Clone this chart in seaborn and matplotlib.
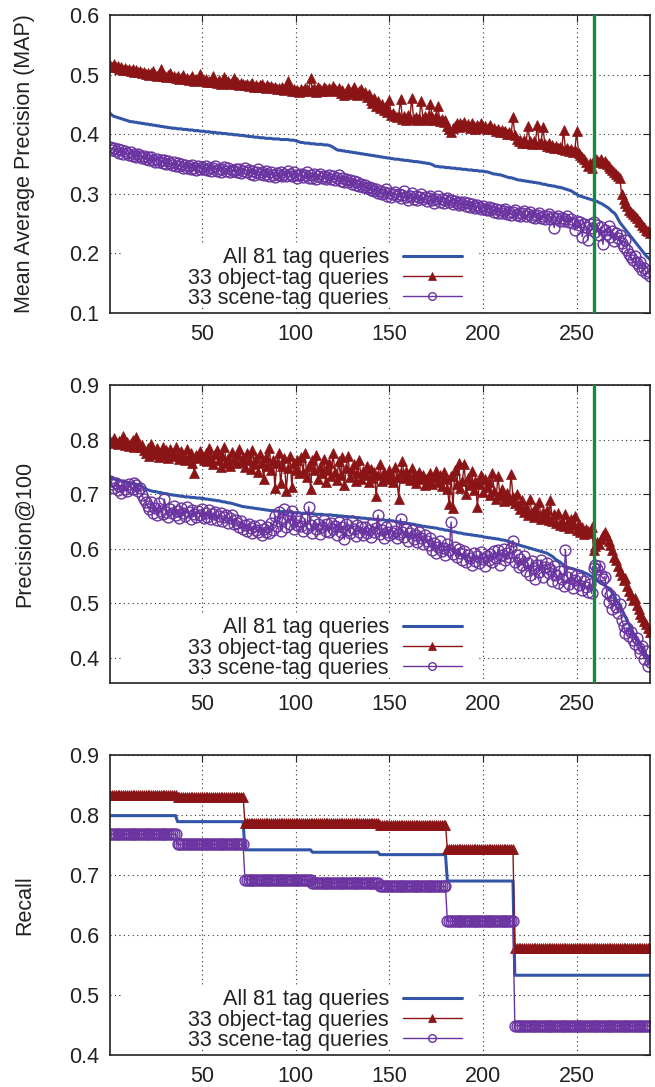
import numpy as np
import pandas as pd
import matplotlib
matplotlib.use("Agg")
import matplotlib.pyplot as plt
from matplotlib.patches import Rectangle
import seaborn as sns

# queries ranked 1..289, cut marked at rank 259
n_queries = 289
cut_rank = 259

labels = ["All 81 tag queries", "33 object-tag queries", "33 scene-tag queries"]

# ---- Mean Average Precision ----
map_all = [
    0.435, 0.432, 0.430, 0.429, 0.428, 0.427, 0.426, 0.425, 0.424, 0.423, 0.422, 0.421, 0.421, 0.420, 0.420, 0.419, 0.419,
    0.418, 0.418, 0.417, 0.417, 0.416, 0.416, 0.415, 0.415, 0.414, 0.414, 0.413, 0.413, 0.412, 0.412, 0.411, 0.411, 0.410,
    0.410, 0.410, 0.409, 0.409, 0.409, 0.408, 0.408, 0.408, 0.407, 0.407, 0.407, 0.406, 0.406, 0.406, 0.405, 0.405, 0.405,
    0.404, 0.404, 0.404, 0.403, 0.403, 0.403, 0.402, 0.402, 0.402, 0.401, 0.401, 0.401, 0.400, 0.400, 0.400, 0.399, 0.399,
    0.399, 0.398, 0.398, 0.398, 0.397, 0.397, 0.396, 0.396, 0.396, 0.395, 0.395, 0.395, 0.394, 0.394, 0.394, 0.393, 0.393,
    0.393, 0.393, 0.392, 0.392, 0.392, 0.392, 0.391, 0.391, 0.391, 0.391, 0.391, 0.390, 0.390, 0.390, 0.389, 0.388, 0.387,
    0.386, 0.386, 0.385, 0.385, 0.385, 0.384, 0.384, 0.384, 0.383, 0.383, 0.383, 0.383, 0.382, 0.382, 0.382, 0.381, 0.380,
    0.378, 0.376, 0.374, 0.373, 0.373, 0.372, 0.372, 0.371, 0.371, 0.370, 0.370, 0.369, 0.369, 0.368, 0.368, 0.367, 0.367,
    0.366, 0.366, 0.365, 0.365, 0.364, 0.364, 0.363, 0.363, 0.362, 0.362, 0.361, 0.361, 0.360, 0.360, 0.359, 0.359, 0.358,
    0.358, 0.358, 0.357, 0.357, 0.356, 0.356, 0.356, 0.355, 0.355, 0.354, 0.354, 0.354, 0.353, 0.353, 0.352, 0.352, 0.351,
    0.351, 0.350, 0.349, 0.347, 0.346, 0.346, 0.345, 0.345, 0.345, 0.344, 0.344, 0.344, 0.343, 0.343, 0.343, 0.342, 0.342,
    0.342, 0.341, 0.341, 0.341, 0.340, 0.340, 0.340, 0.339, 0.339, 0.339, 0.338, 0.338, 0.338, 0.337, 0.337, 0.336, 0.335,
    0.334, 0.333, 0.333, 0.332, 0.332, 0.331, 0.330, 0.329, 0.328, 0.327, 0.327, 0.326, 0.325, 0.324, 0.323, 0.323, 0.322,
    0.322, 0.321, 0.321, 0.320, 0.320, 0.319, 0.319, 0.318, 0.318, 0.317, 0.316, 0.316, 0.315, 0.314, 0.314, 0.313, 0.313,
    0.312, 0.311, 0.311, 0.310, 0.309, 0.308, 0.307, 0.306, 0.305, 0.303, 0.301, 0.299, 0.297, 0.296, 0.295, 0.294, 0.293,
    0.292, 0.291, 0.290, 0.289, 0.288, 0.287, 0.285, 0.284, 0.282, 0.280, 0.278, 0.276, 0.273, 0.270, 0.268, 0.264, 0.258,
    0.252, 0.248, 0.244, 0.240, 0.236, 0.232, 0.228, 0.224, 0.220, 0.216, 0.212, 0.208, 0.204, 0.200, 0.196, 0.193, 0.190,
]
map_object = [
    0.516, 0.513, 0.517, 0.512, 0.514, 0.510, 0.512, 0.508, 0.511, 0.507, 0.509, 0.506, 0.510, 0.505, 0.507, 0.504, 0.506,
    0.503, 0.505, 0.501, 0.503, 0.499, 0.502, 0.506, 0.500, 0.498, 0.501, 0.509, 0.497, 0.500, 0.496, 0.499, 0.502, 0.496,
    0.498, 0.494, 0.497, 0.493, 0.495, 0.499, 0.492, 0.495, 0.491, 0.494, 0.497, 0.490, 0.493, 0.491, 0.501, 0.492, 0.489,
    0.492, 0.488, 0.490, 0.487, 0.498, 0.489, 0.486, 0.491, 0.485, 0.488, 0.496, 0.486, 0.489, 0.484, 0.487, 0.494, 0.485,
    0.487, 0.483, 0.486, 0.484, 0.482, 0.485, 0.481, 0.484, 0.486, 0.480, 0.483, 0.479, 0.482, 0.485, 0.480, 0.478, 0.482,
    0.479, 0.481, 0.477, 0.480, 0.476, 0.478, 0.475, 0.479, 0.474, 0.477, 0.489, 0.475, 0.473, 0.476, 0.472, 0.474, 0.471,
    0.476, 0.473, 0.478, 0.475, 0.472, 0.494, 0.474, 0.477, 0.471, 0.479, 0.475, 0.473, 0.480, 0.476, 0.472, 0.478, 0.474,
    0.481, 0.476, 0.472, 0.478, 0.469, 0.474, 0.466, 0.471, 0.477, 0.467, 0.473, 0.480, 0.470, 0.465, 0.472, 0.476, 0.468,
    0.471, 0.463, 0.467, 0.458, 0.452, 0.460, 0.448, 0.455, 0.444, 0.450, 0.440, 0.447, 0.437, 0.458, 0.433, 0.436, 0.430,
    0.428, 0.431, 0.459, 0.426, 0.430, 0.424, 0.433, 0.427, 0.461, 0.425, 0.429, 0.423, 0.427, 0.455, 0.426, 0.430, 0.424,
    0.433, 0.450, 0.428, 0.424, 0.431, 0.447, 0.422, 0.426, 0.420, 0.423, 0.414, 0.409, 0.404, 0.410, 0.414, 0.418, 0.412,
    0.419, 0.415, 0.421, 0.413, 0.417, 0.411, 0.418, 0.414, 0.409, 0.416, 0.412, 0.418, 0.410, 0.414, 0.408, 0.412, 0.415,
    0.409, 0.411, 0.406, 0.408, 0.404, 0.407, 0.403, 0.405, 0.401, 0.404, 0.400, 0.429, 0.398, 0.392, 0.388, 0.391, 0.386,
    0.390, 0.385, 0.414, 0.388, 0.384, 0.389, 0.386, 0.416, 0.383, 0.387, 0.412, 0.384, 0.381, 0.385, 0.379, 0.382, 0.377,
    0.380, 0.376, 0.379, 0.375, 0.407, 0.374, 0.377, 0.372, 0.375, 0.370, 0.373, 0.405, 0.368, 0.365, 0.362, 0.358, 0.354,
    0.346, 0.352, 0.343, 0.356, 0.360, 0.357, 0.354, 0.358, 0.352, 0.355, 0.350, 0.347, 0.344, 0.340, 0.336, 0.333, 0.330,
    0.326, 0.300, 0.292, 0.285, 0.279, 0.273, 0.270, 0.266, 0.262, 0.259, 0.255, 0.252, 0.248, 0.244, 0.240, 0.237, 0.234,
]
map_scene = [
    0.379, 0.374, 0.377, 0.371, 0.375, 0.369, 0.373, 0.367, 0.371, 0.368, 0.365, 0.370, 0.364, 0.367, 0.362, 0.366, 0.363,
    0.360, 0.364, 0.358, 0.362, 0.356, 0.361, 0.357, 0.354, 0.359, 0.353, 0.357, 0.352, 0.356, 0.350, 0.355, 0.351, 0.348,
    0.353, 0.347, 0.351, 0.346, 0.350, 0.344, 0.349, 0.343, 0.347, 0.342, 0.348, 0.344, 0.340, 0.346, 0.342, 0.345, 0.341,
    0.346, 0.340, 0.344, 0.339, 0.343, 0.347, 0.338, 0.342, 0.337, 0.341, 0.345, 0.339, 0.343, 0.336, 0.340, 0.338, 0.342,
    0.337, 0.341, 0.335, 0.339, 0.343, 0.336, 0.340, 0.334, 0.338, 0.332, 0.337, 0.341, 0.333, 0.336, 0.331, 0.339, 0.334,
    0.330, 0.336, 0.332, 0.328, 0.335, 0.331, 0.337, 0.329, 0.334, 0.330, 0.338, 0.333, 0.329, 0.336, 0.332, 0.327, 0.331,
    0.334, 0.328, 0.332, 0.337, 0.326, 0.331, 0.327, 0.333, 0.325, 0.329, 0.334, 0.326, 0.330, 0.324, 0.328, 0.332, 0.325,
    0.329, 0.323, 0.327, 0.331, 0.322, 0.326, 0.320, 0.325, 0.319, 0.323, 0.317, 0.321, 0.315, 0.319, 0.313, 0.317, 0.311,
    0.314, 0.309, 0.312, 0.306, 0.310, 0.304, 0.308, 0.301, 0.305, 0.299, 0.303, 0.308, 0.297, 0.301, 0.295, 0.299, 0.303,
    0.296, 0.300, 0.293, 0.298, 0.304, 0.294, 0.290, 0.297, 0.301, 0.292, 0.296, 0.289, 0.294, 0.299, 0.291, 0.295, 0.288,
    0.293, 0.297, 0.289, 0.285, 0.292, 0.296, 0.287, 0.291, 0.284, 0.289, 0.293, 0.286, 0.290, 0.283, 0.288, 0.285, 0.281,
    0.286, 0.282, 0.287, 0.280, 0.284, 0.278, 0.283, 0.279, 0.276, 0.281, 0.277, 0.274, 0.279, 0.275, 0.272, 0.277, 0.273,
    0.276, 0.270, 0.274, 0.268, 0.272, 0.267, 0.271, 0.274, 0.266, 0.270, 0.265, 0.269, 0.273, 0.264, 0.268, 0.263, 0.267,
    0.271, 0.262, 0.266, 0.270, 0.261, 0.265, 0.260, 0.264, 0.268, 0.259, 0.263, 0.258, 0.262, 0.266, 0.257, 0.261, 0.243,
    0.259, 0.263, 0.255, 0.260, 0.254, 0.258, 0.262, 0.253, 0.257, 0.251, 0.239, 0.255, 0.248, 0.253, 0.228, 0.250, 0.245,
    0.222, 0.249, 0.243, 0.252, 0.236, 0.247, 0.230, 0.244, 0.215, 0.240, 0.233, 0.246, 0.228, 0.238, 0.220, 0.234, 0.226,
    0.230, 0.218, 0.211, 0.222, 0.205, 0.199, 0.194, 0.189, 0.195, 0.184, 0.178, 0.186, 0.172, 0.176, 0.167, 0.171, 0.162,
]

# ---- Precision@100 ----
p100_all = [
    0.731, 0.729, 0.728, 0.727, 0.726, 0.725, 0.724, 0.723, 0.722, 0.722, 0.721, 0.720, 0.719, 0.719, 0.718, 0.717, 0.716,
    0.714, 0.712, 0.710, 0.708, 0.707, 0.706, 0.705, 0.705, 0.704, 0.703, 0.703, 0.702, 0.701, 0.701, 0.700, 0.699, 0.699,
    0.698, 0.698, 0.697, 0.697, 0.696, 0.696, 0.695, 0.695, 0.695, 0.694, 0.694, 0.694, 0.693, 0.693, 0.693, 0.692, 0.692,
    0.691, 0.691, 0.690, 0.690, 0.689, 0.689, 0.688, 0.688, 0.687, 0.686, 0.686, 0.685, 0.684, 0.684, 0.683, 0.682, 0.681,
    0.680, 0.679, 0.678, 0.677, 0.677, 0.676, 0.676, 0.675, 0.675, 0.674, 0.674, 0.673, 0.673, 0.672, 0.672, 0.671, 0.671,
    0.670, 0.670, 0.670, 0.669, 0.669, 0.669, 0.668, 0.668, 0.668, 0.667, 0.667, 0.667, 0.667, 0.666, 0.666, 0.666, 0.666,
    0.665, 0.665, 0.665, 0.665, 0.664, 0.664, 0.664, 0.664, 0.663, 0.663, 0.663, 0.663, 0.662, 0.662, 0.662, 0.662, 0.662,
    0.661, 0.661, 0.661, 0.660, 0.660, 0.660, 0.659, 0.659, 0.659, 0.658, 0.658, 0.658, 0.657, 0.657, 0.657, 0.656, 0.656,
    0.656, 0.655, 0.655, 0.655, 0.654, 0.654, 0.654, 0.653, 0.653, 0.653, 0.653, 0.652, 0.652, 0.652, 0.651, 0.651, 0.650,
    0.650, 0.649, 0.649, 0.648, 0.648, 0.647, 0.646, 0.646, 0.645, 0.645, 0.644, 0.643, 0.643, 0.642, 0.641, 0.641, 0.640,
    0.640, 0.639, 0.639, 0.638, 0.638, 0.637, 0.636, 0.636, 0.635, 0.634, 0.634, 0.633, 0.632, 0.631, 0.631, 0.630, 0.629,
    0.629, 0.628, 0.627, 0.627, 0.626, 0.626, 0.625, 0.625, 0.624, 0.624, 0.623, 0.623, 0.622, 0.621, 0.621, 0.620, 0.620,
    0.619, 0.619, 0.618, 0.618, 0.617, 0.616, 0.616, 0.615, 0.614, 0.613, 0.612, 0.611, 0.609, 0.608, 0.607, 0.606, 0.605,
    0.604, 0.603, 0.602, 0.601, 0.600, 0.599, 0.598, 0.597, 0.596, 0.595, 0.594, 0.593, 0.592, 0.590, 0.588, 0.586, 0.583,
    0.580, 0.578, 0.576, 0.573, 0.570, 0.567, 0.566, 0.565, 0.564, 0.563, 0.562, 0.561, 0.560, 0.559, 0.558, 0.556, 0.555,
    0.553, 0.551, 0.549, 0.546, 0.543, 0.541, 0.539, 0.537, 0.535, 0.533, 0.530, 0.527, 0.524, 0.519, 0.513, 0.507, 0.501,
    0.495, 0.488, 0.482, 0.475, 0.468, 0.461, 0.454, 0.447, 0.440, 0.433, 0.428, 0.423, 0.418, 0.412, 0.406, 0.401, 0.396,
]
p100_object = [
    0.797, 0.794, 0.803, 0.795, 0.791, 0.798, 0.793, 0.806, 0.790, 0.795, 0.788, 0.793, 0.799, 0.787, 0.805, 0.791, 0.786,
    0.790, 0.781, 0.776, 0.785, 0.770, 0.792, 0.779, 0.773, 0.784, 0.768, 0.778, 0.787, 0.772, 0.780, 0.766, 0.783, 0.775,
    0.770, 0.786, 0.774, 0.765, 0.779, 0.771, 0.762, 0.782, 0.768, 0.775, 0.758, 0.738, 0.772, 0.766, 0.779, 0.769, 0.763,
    0.776, 0.760, 0.784, 0.767, 0.755, 0.773, 0.781, 0.762, 0.749, 0.770, 0.786, 0.758, 0.766, 0.752, 0.778, 0.764, 0.757,
    0.771, 0.783, 0.759, 0.768, 0.750, 0.776, 0.762, 0.746, 0.780, 0.755, 0.767, 0.741, 0.774, 0.757, 0.728, 0.769, 0.751,
    0.785, 0.744, 0.763, 0.712, 0.758, 0.776, 0.720, 0.752, 0.766, 0.705, 0.748, 0.770, 0.714, 0.757, 0.745, 0.762, 0.738,
    0.768, 0.740, 0.776, 0.731, 0.752, 0.710, 0.762, 0.745, 0.772, 0.728, 0.750, 0.739, 0.765, 0.722, 0.744, 0.758, 0.733,
    0.775, 0.741, 0.726, 0.760, 0.735, 0.768, 0.717, 0.748, 0.770, 0.731, 0.744, 0.756, 0.724, 0.739, 0.762, 0.728, 0.742,
    0.735, 0.752, 0.722, 0.747, 0.730, 0.740, 0.697, 0.735, 0.756, 0.725, 0.741, 0.733, 0.728, 0.745, 0.736, 0.722, 0.750,
    0.731, 0.692, 0.738, 0.760, 0.729, 0.743, 0.734, 0.726, 0.748, 0.737, 0.720, 0.733, 0.741, 0.727, 0.735, 0.716, 0.730,
    0.724, 0.738, 0.719, 0.731, 0.742, 0.722, 0.735, 0.715, 0.740, 0.728, 0.710, 0.682, 0.733, 0.675, 0.745, 0.718, 0.758,
    0.712, 0.724, 0.755, 0.700, 0.730, 0.716, 0.742, 0.708, 0.725, 0.677, 0.719, 0.735, 0.704, 0.728, 0.713, 0.722, 0.698,
    0.739, 0.705, 0.692, 0.733, 0.699, 0.710, 0.688, 0.697, 0.703, 0.690, 0.737, 0.694, 0.684, 0.700, 0.680, 0.673, 0.689,
    0.668, 0.676, 0.662, 0.692, 0.666, 0.658, 0.674, 0.661, 0.686, 0.655, 0.668, 0.659, 0.671, 0.652, 0.689, 0.650, 0.663,
    0.648, 0.666, 0.644, 0.651, 0.641, 0.663, 0.646, 0.638, 0.655, 0.643, 0.660, 0.635, 0.645, 0.631, 0.640, 0.627, 0.636,
    0.632, 0.628, 0.640, 0.598, 0.605, 0.612, 0.608, 0.618, 0.625, 0.630, 0.623, 0.615, 0.606, 0.597, 0.585, 0.579, 0.568,
    0.560, 0.551, 0.543, 0.547, 0.532, 0.522, 0.515, 0.506, 0.510, 0.497, 0.489, 0.480, 0.475, 0.468, 0.462, 0.455, 0.448,
]
p100_scene = [
    0.724, 0.718, 0.712, 0.721, 0.708, 0.715, 0.703, 0.717, 0.710, 0.706, 0.719, 0.713, 0.709, 0.720, 0.716, 0.705, 0.711,
    0.698, 0.692, 0.685, 0.679, 0.672, 0.686, 0.666, 0.675, 0.661, 0.683, 0.670, 0.664, 0.691, 0.668, 0.659, 0.673, 0.665,
    0.678, 0.662, 0.670, 0.657, 0.674, 0.665, 0.660, 0.676, 0.668, 0.655, 0.671, 0.663, 0.658, 0.669, 0.661, 0.673, 0.656,
    0.666, 0.659, 0.671, 0.655, 0.663, 0.668, 0.652, 0.660, 0.665, 0.650, 0.658, 0.662, 0.648, 0.656, 0.661, 0.645, 0.653,
    0.647, 0.640, 0.651, 0.636, 0.643, 0.632, 0.645, 0.638, 0.628, 0.641, 0.634, 0.630, 0.644, 0.626, 0.637, 0.631, 0.639,
    0.629, 0.648, 0.635, 0.660, 0.641, 0.668, 0.633, 0.655, 0.672, 0.639, 0.662, 0.645, 0.670, 0.637, 0.658, 0.643, 0.650,
    0.641, 0.632, 0.655, 0.638, 0.677, 0.644, 0.629, 0.650, 0.636, 0.646, 0.627, 0.640, 0.653, 0.633, 0.645, 0.630, 0.648,
    0.636, 0.642, 0.625, 0.649, 0.631, 0.640, 0.617, 0.645, 0.634, 0.628, 0.651, 0.637, 0.624, 0.643, 0.630, 0.639, 0.626,
    0.640, 0.629, 0.635, 0.622, 0.645, 0.631, 0.638, 0.662, 0.627, 0.634, 0.620, 0.639, 0.630, 0.625, 0.642, 0.628, 0.633,
    0.619, 0.627, 0.655, 0.631, 0.622, 0.637, 0.615, 0.629, 0.634, 0.618, 0.626, 0.612, 0.631, 0.620, 0.609, 0.625, 0.614,
    0.606, 0.619, 0.598, 0.611, 0.592, 0.604, 0.615, 0.595, 0.601, 0.588, 0.608, 0.597, 0.649, 0.590, 0.603, 0.585, 0.599,
    0.593, 0.580, 0.596, 0.575, 0.589, 0.583, 0.570, 0.592, 0.578, 0.586, 0.573, 0.594, 0.581, 0.568, 0.587, 0.579, 0.591,
    0.576, 0.595, 0.583, 0.598, 0.571, 0.588, 0.600, 0.579, 0.593, 0.584, 0.602, 0.615, 0.575, 0.589, 0.566, 0.581, 0.570,
    0.586, 0.560, 0.574, 0.552, 0.578, 0.565, 0.544, 0.571, 0.558, 0.580, 0.549, 0.567, 0.573, 0.555, 0.562, 0.541, 0.569,
    0.552, 0.538, 0.560, 0.545, 0.531, 0.598, 0.549, 0.536, 0.556, 0.528, 0.543, 0.551, 0.533, 0.546, 0.525, 0.540, 0.530,
    0.521, 0.536, 0.518, 0.565, 0.570, 0.562, 0.568, 0.552, 0.545, 0.549, 0.521, 0.503, 0.515, 0.489, 0.507, 0.494, 0.483,
    0.498, 0.470, 0.459, 0.446, 0.455, 0.440, 0.448, 0.432, 0.425, 0.437, 0.418, 0.409, 0.421, 0.398, 0.412, 0.386, 0.392,
]

# ---- Recall: constant over blocks of ranks ----
recall_block_len = [36, 36, 36, 36, 36, 36, 73]
recall_all_blocks = [0.799, 0.789, 0.742, 0.738, 0.734, 0.690, 0.533]
recall_object_blocks = [0.834, 0.830, 0.787, 0.787, 0.784, 0.743, 0.579]
recall_scene_blocks = [0.768, 0.751, 0.692, 0.687, 0.681, 0.623, 0.449]

x_ticks = [50, 100, 150, 200, 250]

for name, arr in [("map_all", map_all), ("map_object", map_object), ("map_scene", map_scene),
                  ("p100_all", p100_all), ("p100_object", p100_object), ("p100_scene", p100_scene)]:
    assert len(arr) == n_queries, (name, len(arr))

BLUE = "#3355a8"
RED = "#8b1516"
PURPLE = "#6a33a0"
GREEN = "#168a3c"
INK = "#222222"
FS = 15.5

sns.set_theme(style="white")
plt.rcParams["font.family"] = ["Liberation Sans", "DejaVu Sans"]
plt.rcParams["text.color"] = INK

ranks = np.arange(1, n_queries + 1)
recall_all = np.repeat(recall_all_blocks, recall_block_len)[:n_queries]
recall_object = np.repeat(recall_object_blocks, recall_block_len)[:n_queries]
recall_scene = np.repeat(recall_scene_blocks, recall_block_len)[:n_queries]

fig = plt.figure(figsize=(6.55, 10.87), dpi=100)
left, width = 0.168, 0.824
axes = [
    fig.add_axes([left, 0.7121, width, 0.2741]),
    fig.add_axes([left, 0.3717, width, 0.2741]),
    fig.add_axes([left, 0.0294, width, 0.2760]),
]

panels = [
    (map_all, map_object, map_scene, (0.1, 0.6), np.arange(0.1, 0.61, 0.1), "Mean Average Precision (MAP)", True),
    (p100_all, p100_object, p100_scene, (0.354, 0.9), np.arange(0.4, 0.91, 0.1), "Precision@100", True),
    (recall_all, recall_object, recall_scene, (0.4, 0.9), np.arange(0.4, 0.91, 0.1), "Recall", False),
]

for ax, (v_all, v_obj, v_scene, ylim, yticks, ylabel, show_cut) in zip(axes, panels):
    df = pd.DataFrame({"rank": ranks, "all": v_all, "object": v_obj, "scene": v_scene})
    sns.lineplot(data=df, x="rank", y="all", ax=ax, color=BLUE, lw=2.2,
                 label=labels[0], errorbar=None)
    sns.lineplot(data=df, x="rank", y="object", ax=ax, color=RED, lw=1.0,
                 marker="^", markersize=7.5, markerfacecolor=RED,
                 markeredgecolor=RED, markeredgewidth=0.5,
                 label=labels[1], errorbar=None)
    sns.lineplot(data=df, x="rank", y="scene", ax=ax, color=PURPLE, lw=1.0,
                 marker="o", markersize=7.8, markerfacecolor="none",
                 markeredgecolor=PURPLE, markeredgewidth=1.0,
                 label=labels[2], errorbar=None)
    if show_cut:
        ax.axvline(cut_rank, color=GREEN, lw=2.4, zorder=3)

    ax.set_xlim(1, n_queries)
    ax.set_ylim(*ylim)
    ax.set_xticks(x_ticks)
    ax.set_yticks(yticks)
    ax.set_yticklabels([f"{v:.1f}" for v in yticks])
    ax.set_xlabel("")
    ax.set_ylabel(ylabel, fontsize=FS, color=INK)
    ax.yaxis.set_label_coords(-0.139, 0.5)

    ax.set_axisbelow(True)
    ax.grid(True, linestyle=(0, (1, 3)), color="#333333", lw=0.8)
    ax.tick_params(direction="in", length=5, width=0.8, top=True, right=True,
                   labelsize=FS, pad=8, colors=INK)
    for sp in ax.spines.values():
        sp.set_color(INK)
        sp.set_linewidth(1.2)

    # opaque key area like the original; leaves the bottom ticks visible
    ax.add_patch(Rectangle((0.024, 0.026), 0.656, 0.207, transform=ax.transAxes,
                           facecolor="white", edgecolor="none", zorder=1))
    leg = ax.legend(loc="lower right", bbox_to_anchor=(0.66, 0.0), frameon=False,
                    markerfirst=False, handlelength=2.75, handletextpad=0.65,
                    labelspacing=-0.04, borderpad=0.2, borderaxespad=0, fontsize=FS)
    for line in leg.get_lines():
        line.set_markersize(5.5)

fig.savefig("out.png", dpi=100)
